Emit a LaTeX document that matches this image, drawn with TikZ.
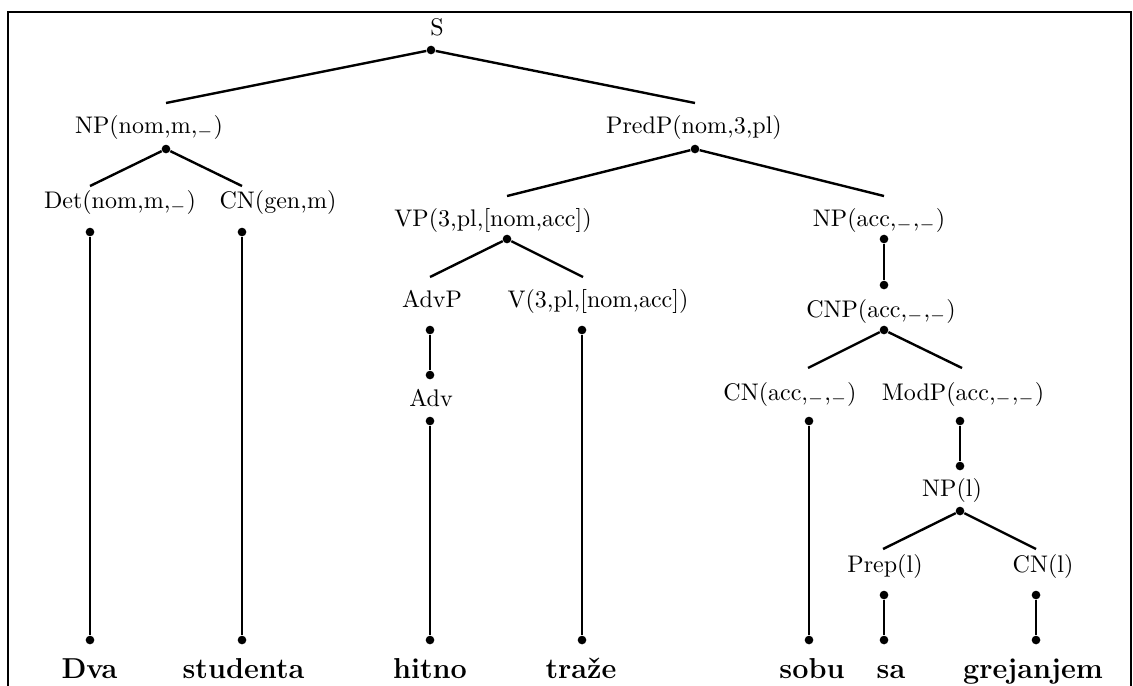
\documentclass[tikz,border=0pt]{standalone}
\usepackage{amsmath}
\usepackage{tikz}

\begin{document}
\begin{tikzpicture}[x=0.01464cm,y=-0.01464cm,
	cat/.style={anchor=base,inner sep=0pt},
	word/.style={anchor=base,inner sep=0pt,font=\large\bfseries},
	dot/.style={shape=circle,fill=black,inner sep=0pt,minimum size=3.6pt},
	branch/.style={line width=1pt}]
	
	\useasboundingbox (0,0) rectangle (1133,685);
	\draw[line width=0.8pt] (8,720) -- (8,12) -- (1131,12) -- (1131,720);
	
	% categories
	\node[cat] (s)      at (437,35)  {S};
	\node[cat] (np)     at (149,133) {NP(nom,m,$_-$)};
	\node[cat] (predp)  at (694,133) {PredP(nom,3,pl)};
	\node[cat] (det)    at (120,208) {Det(nom,m,$_-$)};
	\node[cat] (cn)     at (278,208) {CN(gen,m)};
	\node[cat] (vp)     at (493,226) {VP(3,pl,[nom,acc])};
	\node[cat] (npacc)  at (879,226) {NP(acc,$_-$,$_-$)};
	\node[cat] (advp)   at (432,307) {AdvP};
	\node[cat] (v)      at (598,307) {V(3,pl,[nom,acc])};
	\node[cat] (cnp)    at (881,317) {CNP(acc,$_-$,$_-$)};
	\node[cat] (adv)    at (431,406) {Adv};
	\node[cat] (cnacc)  at (790,400) {CN(acc,$_-$,$_-$)};
	\node[cat] (modp)   at (963,400) {ModP(acc,$_-$,$_-$)};
	\node[cat] (npl)    at (952,496) {NP(l)};
	\node[cat] (prep)   at (885,572) {Prep(l)};
	\node[cat] (cnl)    at (1043,572) {CN(l)};
	
	% words
	\node[word] (dva)       at (89.5,678) {Dva};
	\node[word] (studenta)  at (243.5,678) {studenta};
	\node[word] (hitno)     at (430,678) {hitno};
	\node[word] (traze)     at (581,678) {traže};
	\node[word] (sobu)      at (812,678) {sobu};
	\node[word] (sa)        at (891,678) {sa};
	\node[word] (grejanjem) at (1033,678) {grejanjem};
	
	% dots
	\node[dot] (sd)      at (431,50)  {};
	\node[dot] (npd)     at (166,149) {};
	\node[dot] (predpd)  at (695,149) {};
	\node[dot] (detd)    at (90,232)  {};
	\node[dot] (cnd)     at (242,232) {};
	\node[dot] (vpd)     at (507,239) {};
	\node[dot] (npaccd)  at (884,239) {};
	\node[dot] (advpd)   at (430,330) {};
	\node[dot] (vd)      at (582,330) {};
	\node[dot] (cnpt)    at (884,285) {};
	\node[dot] (cnpd)    at (884,330) {};
	\node[dot] (advt)    at (430,375) {};
	\node[dot] (advd)    at (430,421) {};
	\node[dot] (cnaccd)  at (809,421) {};
	\node[dot] (modpd)   at (960,421) {};
	\node[dot] (nplt)    at (960,466) {};
	\node[dot] (npld)    at (960,511) {};
	\node[dot] (prepd)   at (884,595) {};
	\node[dot] (cnld)    at (1036,595) {};
	\node[dot] (dvad)    at (90,640)  {};
	\node[dot] (studentad) at (242,640) {};
	\node[dot] (hitnod)  at (430,640) {};
	\node[dot] (trazed)  at (582,640) {};
	\node[dot] (sobud)   at (809,640) {};
	\node[dot] (sad)     at (884,640) {};
	\node[dot] (grejanjemd) at (1036,640) {};
	
	% branch ends
	\coordinate (npt)    at (166,103);
	\coordinate (predpt) at (695,103);
	\coordinate (dett)   at (90,186);
	\coordinate (cnt)    at (242,186);
	\coordinate (vpt)    at (507,196);
	\coordinate (npacct) at (884,196);
	\coordinate (advpt)  at (430,277);
	\coordinate (vt)     at (583,277);
	\coordinate (cnacct) at (808,368);
	\coordinate (modpt)  at (962,368);
	\coordinate (prept)  at (883,549);
	\coordinate (cnlt)   at (1036,549);
	
	\path[branch] (sd) edge (npt);
	\path[branch] (sd) edge (predpt);
	\path[branch] (npd) edge (dett);
	\path[branch] (npd) edge (cnt);
	\path[branch] (predpd) edge (vpt);
	\path[branch] (predpd) edge (npacct);
	\path[branch] (vpd) edge (advpt);
	\path[branch] (vpd) edge (vt);
	\path[branch] (npaccd) edge (cnpt);
	\path[branch] (advpd) edge (advt);
	\path[branch] (cnpd) edge (cnacct);
	\path[branch] (cnpd) edge (modpt);
	\path[branch] (modpd) edge (nplt);
	\path[branch] (npld) edge (prept);
	\path[branch] (npld) edge (cnlt);
	
	\path[branch] (detd) edge (dvad);
	\path[branch] (cnd) edge (studentad);
	\path[branch] (advd) edge (hitnod);
	\path[branch] (vd) edge (trazed);
	\path[branch] (cnaccd) edge (sobud);
	\path[branch] (prepd) edge (sad);
	\path[branch] (cnld) edge (grejanjemd);
\end{tikzpicture}
\end{document}
